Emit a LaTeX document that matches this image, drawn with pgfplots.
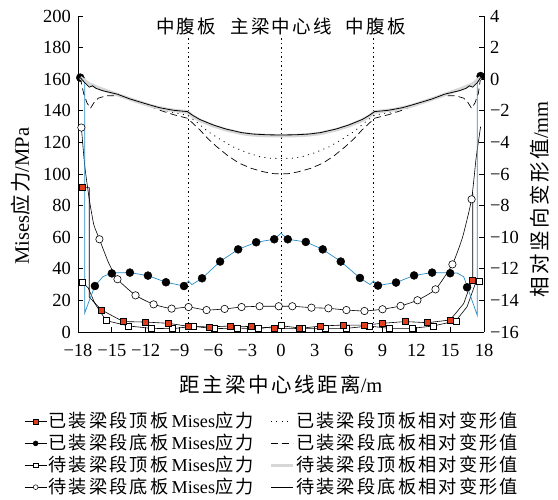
\documentclass[border=0pt]{standalone}
\usepackage{fontspec}
\setmainfont{Liberation Serif}
\newfontfamily\cjk[LetterSpace=12]{Noto Sans CJK SC}
\usepackage{pgfplots}
\pgfplotsset{compat=1.18}
\newcommand{\zh}[1]{{\cjk #1}}
\definecolor{sqred}{RGB}{226,62,28}
\definecolor{lineblue}{RGB}{40,140,200}
\definecolor{lgray}{RGB}{215,215,215}
\begin{document}
\fontsize{17.5}{20}\selectfont
\begin{tikzpicture}
\path[use as bounding box] (-78pt,-167pt) rectangle (480pt,332pt);
\begin{axis}[
  at={(0pt,0pt)}, anchor=south west,
  scale only axis, width=406pt, height=316pt,
  xmin=-18, xmax=18, ymin=0, ymax=200,
  axis x line*=bottom, axis y line*=left,
  axis line style={-, line width=0.8pt},
  xtick={-18,-15,...,18},
  xticklabels={−18,−15,−12,−9,−6,−3,0,3,6,9,12,15,18},
  ytick={0,20,...,200},
  /pgf/number format/assume math mode=true,
  tick label style={font=\fontsize{18.5}{20}\selectfont},
  xticklabel style={yshift=-6pt},
  yticklabel style={xshift=-1pt},
  tick align=inside, major tick length=5pt,
  tick style={line width=0.8pt, black},
  label style={font=\fontsize{20.5}{24}\selectfont},
  xlabel={\zh{距主梁中心线距离}/m},
  xlabel style={at={(axis description cs:0.5,-0.165)}, anchor=center},
  ylabel={Mises\zh{应力}/MPa},
  ylabel style={at={(axis description cs:-0.14,0.43)}, anchor=center},
  clip=false,
]
% vertical reference lines
\addplot[black, line width=0.7pt, dash pattern=on 1.5pt off 3pt] coordinates {(-8.2,0) (-8.2,200)};
\addplot[black, line width=0.7pt, dash pattern=on 1.5pt off 3pt] coordinates {(0,0) (0,200)};
\addplot[black, line width=0.7pt, dash pattern=on 1.5pt off 3pt] coordinates {(8.2,0) (8.2,200)};
\node[fill=white, inner sep=1.5pt, font=\fontsize{18.5}{20}\selectfont] at (axis cs:-8.4,193.5) {\zh{中腹板}};
\node[fill=white, inner sep=1.5pt, font=\fontsize{18.5}{20}\selectfont] at (axis cs:0,193.5) {\zh{主梁中心线}};
\node[fill=white, inner sep=1.5pt, font=\fontsize{18.5}{20}\selectfont] at (axis cs:8.4,193.5) {\zh{中腹板}};
% 待装底板 Mises (white circles)
\addplot[black, line width=0.6pt, smooth, tension=0.3] coordinates {
(-17.7,129.4) (-17.4,105) (-17.0,84) (-16.6,68) (-16.1,58.7) (-15.3,44) (-14.5,33.4) (-12.9,23.2) (-11.3,17.5) (-9.7,14.8) (-8.2,15.8) (-6.6,13.9) (-5.0,14.6) (-3.5,15.8) (-1.9,16.3) (-0.2,16.3) (1.0,16.3) (2.7,15.4) (4.2,15.0) (5.8,13.9) (7.4,13.3) (9.0,14.4) (10.6,16.5) (12.1,20.1) (13.7,27.0) (15.2,42.8) (16.1,60) (16.9,84) (17.3,110) (17.7,130)};
% 待装顶板 Mises (white squares)
\addplot[black, line width=0.6pt] coordinates {
(-17.6,31.2) (-17.1,28) (-16.5,18) (-15.5,7.2) (-13.5,3.8) (-11.5,2.3) (-9.6,2.1) (-7.8,3.6) (-5.9,2.1) (-3.9,2.5) (-2.0,2.1) (0,4.0) (1.9,2.3) (3.9,2.3) (5.8,2.3) (7.8,3.8) (9.6,2.3) (11.6,2.3) (13.5,3.8) (15.5,7.0) (16.5,16) (17.2,30) (17.6,32.3)};
% 已装顶板 Mises (red squares)
\addplot[black, line width=0.6pt] coordinates {
(-17.6,91.4) (-17.0,91.4) (-17.0,22) (-15.9,13.9) (-14.0,6.6) (-12.0,6.3) (-10.0,5.5) (-8.2,3.6) (-6.4,3.2) (-4.5,3.8) (-2.6,3.4) (-0.6,2.5) (1.6,2.2) (3.5,3.8) (5.5,4.4) (7.4,4.4) (9.0,5.5) (11.0,6.6) (13.0,5.9) (15.0,7.6) (16.2,18) (16.7,28) (17.0,32.9) (17.0,88)};
% 已装底板 Mises (blue line)
\addplot[lineblue, line width=0.7pt] coordinates {
(-17.8,161) (-17.4,161) (-17.4,12) (-17.0,20) (-16.5,29.1) (-15.8,35) (-15.0,37.4) (-13.4,37.6) (-11.8,35.7) (-10.2,31.5) (-8.6,29.1) (-8.2,32.3) (-7.9,30) (-7.0,34.0) (-5.4,44.6) (-3.8,52.3) (-2.2,56.8) (-0.6,58.7) (0,62.5) (0.6,58.7) (2.2,57.0) (3.7,52.3) (5.3,44.6) (7.0,34.2) (7.9,30) (8.2,32.3) (8.6,29.4) (10.2,31.3) (11.8,35.8) (13.4,37.6) (15.0,37.4) (15.6,37.4) (16.2,35) (16.5,29) (16.8,22.8) (17.4,10.6) (17.4,161) (17.7,162)};
% markers
\addplot[only marks, mark=*, mark size=3.7pt, mark options={fill=white, draw=black, line width=0.6pt}] coordinates {
(-17.7,129.4) (-16.1,58.7) (-14.5,33.4) (-12.9,23.2) (-11.3,17.5) (-9.7,14.8) (-8.2,15.8) (-6.6,13.9) (-5.0,14.6) (-3.5,15.8) (-1.9,16.3) (-0.2,16.3) (1.0,16.3) (2.7,15.4) (4.2,15.0) (5.8,13.9) (7.4,13.3) (9.0,14.4) (10.6,16.5) (12.1,20.1) (13.7,27.0) (15.2,42.8) (16.9,84)};
\addplot[only marks, mark=square*, mark size=3pt, mark options={fill=white, draw=black, line width=0.6pt}] coordinates {
(-17.6,31.2) (-15.5,7.2) (-13.5,3.8) (-11.5,2.3) (-9.6,2.1) (-7.8,3.6) (-5.9,2.1) (-3.9,2.5) (-2.0,2.1) (0,4.0) (1.9,2.3) (3.9,2.3) (5.8,2.3) (7.8,3.8) (9.6,2.3) (11.6,2.3) (13.5,3.8) (15.5,7.0) (17.6,32.3)};
\addplot[only marks, mark=square*, mark size=3pt, mark options={fill=sqred, draw=black, line width=0.5pt}] coordinates {
(-17.6,91.4) (-15.9,13.9) (-14.0,6.6) (-12.0,6.3) (-10.0,5.5) (-8.2,3.6) (-6.4,3.2) (-4.5,3.8) (-2.6,3.4) (-0.6,2.5) (1.6,2.2) (3.5,3.8) (5.5,4.4) (7.4,4.4) (9.0,5.5) (11.0,6.6) (13.0,5.9) (15.0,7.6) (17.0,32.9)};
\addplot[only marks, mark=*, mark size=4pt, mark options={fill=black, draw=black}] coordinates {
(-17.8,161) (-16.5,29.1) (-15.0,37.1) (-13.4,37.6) (-11.8,35.7) (-10.2,31.5) (-8.6,29.1) (-7.0,34.0) (-5.4,44.6) (-3.8,52.3) (-2.2,56.8) (-0.6,58.7) (0.6,58.7) (2.2,57.0) (3.7,52.3) (5.3,44.6) (7.0,34.2) (8.6,29.4) (10.2,31.3) (11.8,35.8) (13.4,37.6) (15.0,37.2) (16.5,28.3) (17.7,162)};
\end{axis}
\begin{axis}[
  at={(0pt,0pt)}, anchor=south west,
  scale only axis, width=406pt, height=316pt,
  xmin=-18, xmax=18, ymin=-16, ymax=4,
  axis x line=none, axis y line*=right,
  axis line style={-, line width=0.8pt},
  ytick={-16,-14,...,4},
  yticklabels={−16,−14,−12,−10,−8,−6,−4,−2,0,2,4},
  tick label style={font=\fontsize{18.5}{20}\selectfont},
  tick align=inside, major tick length=5pt,
  tick style={line width=0.8pt, black},
  label style={font=\fontsize{20.5}{24}\selectfont},
  ylabel={\zh{相对竖向变形值}/mm},
  ylabel style={at={(axis description cs:1.138,0.42)}, anchor=center, rotate=0},
  legend columns=2,
  legend cell align=left,
  legend image code/.code={\draw[mark repeat=2,mark phase=2,#1] plot coordinates {(0pt,0pt) (11pt,0pt) (22pt,0pt)};},
  legend style={at={(axis description cs:-0.14,-0.243)}, anchor=north west, draw=none, fill=none,
    font=\fontsize{18.2}{20}\selectfont,
    row sep=0.8pt, nodes={inner sep=1.5pt},
    /tikz/every even column/.append style={column sep=14pt}},
]
\addlegendimage{black, line width=0.6pt, mark=square*, mark size=2.4pt, mark options={fill=sqred, draw=black, line width=0.4pt}}
\addlegendentry{\zh{已装梁段顶板}\,Mises\zh{应力}}
\addplot[black, line width=0.8pt, dash pattern=on 1pt off 4.5pt] coordinates {
(-17.8,0.1) (-17.3,-0.25) (-16.5,-0.5) (-15.5,-0.75) (-14,-1.15) (-12.5,-1.5) (-11,-1.85) (-9.5,-2.12) (-8.3,-2.27) (-7.5,-2.7) (-6.5,-3.3) (-5.3,-3.85) (-4.3,-4.27) (-3,-4.65) (-1.9,-4.9) (-1,-5.0) (0,-5.02) (1,-5.0) (1.9,-4.9) (3,-4.65) (4.3,-4.27) (5.3,-3.85) (6.5,-3.3) (7.5,-2.7) (8.3,-2.27) (9.5,-2.12) (11,-1.85) (12.5,-1.5) (14,-1.15) (15.5,-0.75) (16.5,-0.5) (17.3,-0.25) (17.7,0.1)};
\addlegendentry{\zh{已装梁段顶板相对变形值}}
\addlegendimage{black, line width=0.6pt, mark=*, mark size=2.4pt, mark options={fill=black}}
\addlegendentry{\zh{已装梁段底板}\,Mises\zh{应力}}
\addplot[black, line width=0.7pt, dash pattern=on 7pt off 4pt] coordinates {
(-17.8,0.1) (-17.5,-0.9) (-17.2,-1.5) (-16.9,-1.85) (-16.6,-1.5) (-16.2,-1.2) (-15.5,-1.05) (-14.5,-1.05) (-13.4,-1.3) (-12,-1.6) (-10.8,-1.95) (-9.5,-2.25) (-8.3,-2.47) (-7.8,-2.8) (-7.2,-3.2) (-6.5,-3.75) (-5.7,-4.27) (-4.7,-4.85) (-3.7,-5.32) (-2.6,-5.65) (-1.6,-5.85) (-0.8,-5.97) (0,-6.0) (0.8,-5.97) (1.6,-5.85) (2.6,-5.65) (3.7,-5.32) (4.7,-4.85) (5.7,-4.27) (6.5,-3.75) (7.2,-3.2) (7.8,-2.8) (8.3,-2.47) (9.5,-2.25) (10.8,-1.95) (12,-1.6) (13.4,-1.3) (14.5,-1.05) (15.5,-1.05) (16.2,-1.2) (16.6,-1.5) (16.9,-1.85) (17.2,-1.5) (17.5,-0.9) (17.7,0.1)};
\addlegendentry{\zh{已装梁段底板相对变形值}}
\addlegendimage{black, line width=0.6pt, mark=square*, mark size=2.4pt, mark options={fill=white, draw=black, line width=0.5pt}}
\addlegendentry{\zh{待装梁段顶板}\,Mises\zh{应力}}
\addplot[lgray, line width=3.5pt] coordinates {
(-17.8,0.1) (-17.0,-0.3) (-16.0,-0.6) (-15.0,-0.85) (-14,-1.1) (-12.8,-1.4) (-11.5,-1.7) (-10,-1.93) (-8.3,-2.08) (-7.8,-2.35) (-7.2,-2.6) (-6,-2.95) (-4.9,-3.2) (-3.5,-3.43) (-2.5,-3.52) (-1.2,-3.57) (0,-3.58) (1.2,-3.57) (2.5,-3.52) (3.5,-3.43) (4.9,-3.2) (6,-2.95) (7.2,-2.6) (7.8,-2.35) (8.3,-2.08) (10,-1.93) (11.5,-1.7) (12.8,-1.4) (14,-1.1) (15.0,-0.85) (16.0,-0.6) (17.0,-0.3) (17.7,0.1)};
\addlegendentry{\zh{待装梁段顶板相对变形值}}
\addlegendimage{black, line width=0.6pt, mark=*, mark size=2.4pt, mark options={fill=white, draw=black, line width=0.5pt}}
\addlegendentry{\zh{待装梁段底板}\,Mises\zh{应力}}
\addplot[black, line width=0.8pt] coordinates {
(-17.8,0.1) (-17.4,-0.22) (-17.0,-0.5) (-16.7,-0.42) (-16.4,-0.58) (-15.8,-0.73) (-14.5,-0.95) (-13.4,-1.25) (-12,-1.55) (-10.8,-1.8) (-9.5,-1.97) (-8.3,-2.05) (-7.8,-2.3) (-7.2,-2.55) (-6,-2.9) (-4.9,-3.15) (-3.5,-3.38) (-2.5,-3.47) (-1.2,-3.52) (0,-3.53) (1.2,-3.52) (2.5,-3.47) (3.5,-3.38) (4.9,-3.15) (6,-2.9) (7.2,-2.55) (7.8,-2.3) (8.3,-2.05) (9.5,-1.97) (10.8,-1.8) (12,-1.55) (13.4,-1.25) (14.5,-0.95) (15.8,-0.73) (16.4,-0.58) (16.7,-0.42) (17.0,-0.5) (17.4,-0.22) (17.7,0.1)};
\addlegendentry{\zh{待装梁段底板相对变形值}}
\end{axis}
\end{tikzpicture}
\end{document}
